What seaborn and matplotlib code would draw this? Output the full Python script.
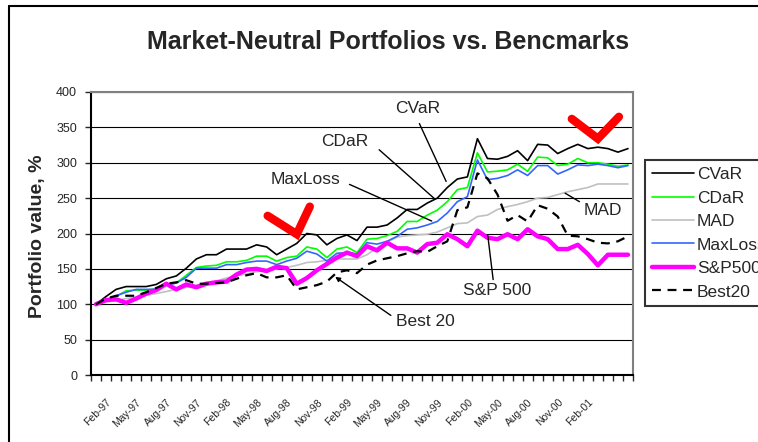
import pandas as pd
import seaborn as sns
import matplotlib.pyplot as plt
from matplotlib.lines import Line2D
from matplotlib.transforms import ScaledTranslation

sns.set_style("white")
plt.rcParams['font.family'] = ['Liberation Sans', 'DejaVu Sans']

# monthly observations, category index 0..53
month = list(range(54))
tick_pos = list(range(0, 49, 3))
tick_labels = ["Feb-97", "May-97", "Aug-97", "Nov-97", "Feb-98", "May-98", "Aug-98",
               "Nov-98", "Feb-99", "May-99", "Aug-99", "Nov-99", "Feb-00", "May-00",
               "Aug-00", "Nov-00", "Feb-01"]

cvar = [100, 111, 121, 125, 125, 125, 128, 136, 140, 151, 164, 170, 170, 178, 178, 178,
        184, 181, 170, 178, 186, 200, 198, 184, 193, 198, 190, 209, 209, 212, 222, 234,
        234, 243, 250, 265, 277, 280, 334, 306, 305, 309, 317, 303, 326, 325, 313, 320,
        326, 320, 322, 320, 315, 320]
cdar = [100, 106, 111, 119, 120, 120, 122, 128, 130, 141, 152, 154, 155, 160, 160, 162,
        168, 168, 161, 166, 168, 181, 178, 166, 178, 181, 173, 192, 193, 197, 203, 217,
        217, 226, 233, 245, 262, 265, 314, 287, 288, 290, 298, 288, 308, 307, 296, 298,
        306, 300, 300, 298, 295, 297]
mad = [100, 103, 105, 108, 110, 113, 115, 118, 121, 124, 127, 130, 133, 137, 140, 143,
       146, 148, 150, 152, 155, 159, 160, 162, 164, 164, 164, 170, 180, 188, 195, 197,
       198, 199, 202, 208, 214, 215, 224, 226, 234, 238, 241, 245, 250, 251, 255, 259,
       262, 265, 270, 270, 270, 270]
maxloss = [100, 106, 112, 117, 121, 121, 121, 127, 130, 138, 151, 151, 151, 156, 156, 159,
           161, 161, 156, 161, 165, 175, 171, 161, 172, 173, 171, 187, 185, 189, 196, 206,
           208, 212, 217, 229, 245, 252, 304, 276, 278, 282, 290, 282, 296, 296, 284, 290,
           297, 296, 298, 296, 293, 296]
sp500 = [100, 106, 107, 102, 108, 115, 120, 129, 121, 128, 124, 129, 131, 132, 142, 149,
         150, 147, 153, 151, 129, 137, 148, 157, 166, 173, 168, 182, 176, 187, 179, 179,
         173, 185, 187, 199, 192, 182, 204, 194, 192, 199, 192, 206, 196, 192, 178, 178,
         184, 171, 155, 170, 170, 170]
best20 = [100, 108, 112, 112, 112, 117, 123, 129, 131, 134, 129, 129, 130, 131, 136, 141,
          144, 138, 138, 141, 121, 124, 127, 132, 145, 148, 144, 156, 162, 165, 168, 172,
          175, 174, 182, 189, 233, 237, 285, 278, 255, 218, 226, 217, 240, 235, 224, 197,
          196, 192, 187, 186, 189, 196]

df = pd.DataFrame({"month": month, "CVaR": cvar, "CDaR": cdar, "MAD": mad,
                   "MaxLoss": maxloss, "S&P500": sp500, "Best20": best20})

styles = {
    "CVaR": dict(color="black", lw=1.2, ls="-"),
    "CDaR": dict(color="#00ff00", lw=1.2, ls="-"),
    "MAD": dict(color="#c0c0c0", lw=1.2, ls="-"),
    "MaxLoss": dict(color="#3366ff", lw=1.2, ls="-"),
    "S&P500": dict(color="#ff00ff", lw=3.2, ls="-"),
    "Best20": dict(color="black", lw=1.6, ls=(0, (4, 3))),
}

fig = plt.figure(figsize=(7.58, 4.42), dpi=100)
ax = fig.add_axes([91 / 758, 1 - 375 / 442, 542 / 758, 283 / 442])

for name, st in styles.items():
    sns.lineplot(data=df, x="month", y=name, ax=ax, color=st["color"], linewidth=st["lw"])
    ax.lines[-1].set_linestyle(st["ls"])

ax.set_xlim(-0.5, 53.5)
ax.set_ylim(0, 400)
ax.set_yticks(range(0, 401, 50))
ax.set_xlabel("")
ax.set_ylabel("")
ax.set_axisbelow(True)
ax.grid(axis="y", color="black", lw=0.8)
ax.grid(axis="x", visible=False)

for s in ["left", "bottom"]:
    ax.spines[s].set_color("black")
    ax.spines[s].set_linewidth(1.5)
for s in ["top", "right"]:
    ax.spines[s].set_color("#808080")
    ax.spines[s].set_linewidth(1.5)

ax.tick_params(axis="y", direction="out", length=4, width=1, pad=6, labelsize=9, left=True)
ax.set_xticks(tick_pos)
ax.set_xticklabels(tick_labels)
ax.set_xticks([i - 0.5 for i in range(55)], minor=True)
ax.tick_params(axis="x", which="major", length=0, pad=16, labelsize=7.5)
ax.tick_params(axis="x", which="minor", direction="out", length=4, width=1, bottom=True)
shift = ScaledTranslation(10 / 100, 0, fig.dpi_scale_trans)
for lbl in ax.get_xticklabels():
    lbl.set_rotation(45)
    lbl.set_ha("right")
    lbl.set_rotation_mode("anchor")
    lbl.set_transform(lbl.get_transform() + shift)

# series labels with leader lines
notes = [
    ("CVaR", (32.0, 377), (32.1, 359), (35.0, 270)),
    ("CDaR", (24.8, 330), (28.0, 321), (33.9, 247)),
    ("MaxLoss", (20.9, 277), (25.0, 271), (33.7, 216)),
    ("MAD", (50.5, 233), (48.4, 243), (46.5, 259)),
    ("S&P 500", (40.0, 120), (39.6, 131), (39.0, 201)),
]
for txt, pos, p0, p1 in notes:
    ax.text(pos[0], pos[1], txt, fontsize=12.5, ha="center", va="center")
    ax.annotate("", xy=p1, xytext=p0, arrowprops=dict(arrowstyle="-", color="black", lw=1))
ax.text(32.8, 75, "Best 20", fontsize=12.5, ha="center", va="center")
ax.annotate("", xy=(23.6, 141), xytext=(29.6, 82),
            arrowprops=dict(arrowstyle="-|>", color="black", lw=1, mutation_scale=7))

# red check marks
ax.plot([17.1, 20.0, 21.3], [225, 199, 238], color="red", lw=6,
        solid_capstyle="round", solid_joinstyle="miter", clip_on=False)
ax.plot([47.4, 50.0, 52.1], [362, 334, 365], color="red", lw=6,
        solid_capstyle="round", solid_joinstyle="miter", clip_on=False)

handles = [Line2D([0], [0], color=st["color"], lw=st["lw"], ls=st["ls"]) for st in styles.values()]
leg = fig.legend(handles, list(styles.keys()), loc="upper left",
                 bbox_to_anchor=(645 / 758, 1 - 160 / 442), frameon=True, fancybox=False,
                 edgecolor="black", fontsize=12.5, handlelength=2.4, handletextpad=0.2,
                 labelspacing=0.48, borderpad=0.4, borderaxespad=0)
leg.get_frame().set_linewidth(1.5)

fig.text(388 / 758, 1 - 42 / 442, "Market-Neutral Portfolios vs. Bencmarks",
         fontsize=18, fontweight="bold", ha="center", va="center")
fig.text(38 / 758, 1 - 236 / 442, "Portfolio value, %", fontsize=14, fontweight="bold",
         rotation=90, ha="center", va="center")

# chart border (left and top edges visible)
fig.add_artist(Line2D([9 / 758, 9 / 758], [0, 1 - 6 / 442], transform=fig.transFigure,
                      color="black", lw=1.5))
fig.add_artist(Line2D([9 / 758, 1], [1 - 6 / 442, 1 - 6 / 442], transform=fig.transFigure,
                      color="black", lw=1.5))

fig.savefig("out.png", dpi=100)
